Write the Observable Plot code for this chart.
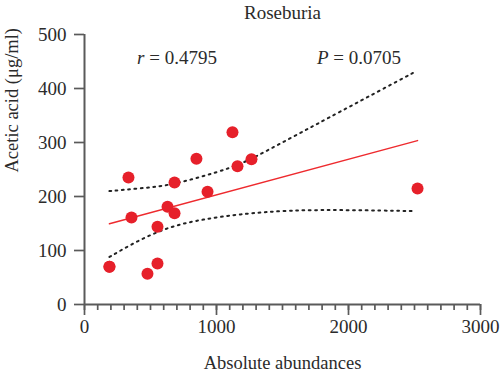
<!DOCTYPE html>
<html>
<head>
<meta charset="utf-8">
<script src="https://cdn.jsdelivr.net/npm/d3@7"></script>
<script src="https://cdn.jsdelivr.net/npm/@observablehq/plot@0.6"></script>
<style>
  html, body { margin: 0; padding: 0; background: #fff; }
  #chart { width: 500px; height: 376px; }
</style>
</head>
<body>
<div id="chart"></div>
<script>
// Data
const abundance = [189, 333, 356, 189, 477, 553, 553, 629, 682, 682, 848, 932, 1121, 1159, 1265, 2523];
const acetic    = [70, 235, 161, 70, 57, 76, 144, 181, 169, 226, 270, 209, 319, 256, 269, 215];

// Fitted regression line (as drawn in the reference)
const fitX = [189, 2523];
const fitY = [149.5, 303.5];

// 95% confidence band
const upperX = [189, 420, 630, 880, 1110, 1260, 1410, 1560, 1710, 1840, 2040, 2240, 2505];
const upperY = [210, 215, 220, 236, 253, 269, 288.5, 308, 327.5, 344.5, 370.5, 396.5, 431];
const lowerX = [189, 400, 650, 900, 1160, 1550, 2000, 2505];
const lowerY = [88, 118, 145, 158, 167, 175, 175, 173];

const xTicks = [0, 1000, 2000, 3000];
const yTicks = [0, 100, 200, 300, 400, 500];
const title = "Roseburia";
const xLabel = "Absolute abundances";
const yLabel = "Acetic acid (\u03bcg/ml)";
const statX = [705, 2083];
const statY = [457, 457];
const statSymbol = ["r", "P"];
const statValue = [" = 0.4795", " = 0.0705"];

const points = abundance.map((x, i) => ({x, y: acetic[i]}));
const fit = fitX.map((x, i) => ({x, y: fitY[i]}));
const upper = upperX.map((x, i) => ({x, y: upperY[i]}));
const lower = lowerX.map((x, i) => ({x, y: lowerY[i]}));

const serif = "'Liberation Serif', 'DejaVu Serif', serif";
const axisColor = "#5a5a5a";
const textColor = "#2b2b2b";

const chart = Plot.plot({
  width: 500,
  height: 376,
  marginLeft: 84,
  marginRight: 20,
  marginTop: 34,
  marginBottom: 72,
  style: {fontFamily: serif, fontSize: "19px", color: textColor, background: "#fff"},
  x: {domain: [0, 3000]},
  y: {domain: [0, 500]},
  marks: [
    // minor x ticks
    Plot.axisX({ticks: d3.range(0, 3001, 100), tickSize: 6, tickFormat: () => "", stroke: axisColor, strokeWidth: 1.7, label: null}),
    // major x ticks
    Plot.axisX({ticks: xTicks, tickSize: 11, tickPadding: 4, stroke: axisColor, strokeWidth: 1.7,
      fontSize: 19, label: null, tickFormat: d => String(d)}),
    Plot.axisY({ticks: yTicks, tickSize: 10, tickPadding: 8, stroke: axisColor, strokeWidth: 1.7,
      fontSize: 19, label: null, tickFormat: d => String(d)}),
    Plot.ruleY([0], {stroke: axisColor, strokeWidth: 2}),
    Plot.ruleX([0], {stroke: axisColor, strokeWidth: 2}),
    // confidence band
    Plot.line(upper, {x: "x", y: "y", curve: "basis", stroke: "#222", strokeWidth: 2, strokeDasharray: "1.8,4.5"}),
    Plot.line(lower, {x: "x", y: "y", curve: "basis", stroke: "#222", strokeWidth: 2, strokeDasharray: "1.8,4.5"}),
    // regression line
    Plot.line(fit, {x: "x", y: "y", stroke: "#ee2a2e", strokeWidth: 1.5}),
    // points
    Plot.dot(points, {x: "x", y: "y", r: 6, fill: "#e6202a", stroke: "none"}),
    // titles
    Plot.text([title], {frameAnchor: "top", lineAnchor: "middle", dy: -22, text: d => d, fontSize: 19, fill: textColor}),
    Plot.text([xLabel], {frameAnchor: "bottom", lineAnchor: "middle", dy: 59, text: d => d, fontSize: 18.5, fill: textColor}),
    Plot.text([yLabel], {frameAnchor: "left", lineAnchor: "middle", dx: -72, dy: 3, rotate: -90, text: d => d, fontSize: 18.5, fill: textColor})
  ]
});

// Statistics labels with italic letters, positioned through the chart's scales
const svg = d3.select(chart);
const xs = chart.scale("x"), ys = chart.scale("y");
statX.forEach((sx, i) => {
  const t = svg.append("text")
    .attr("x", xs.apply(sx)).attr("y", ys.apply(statY[i]))
    .attr("text-anchor", "middle").attr("dy", "0.35em")
    .attr("font-family", serif).attr("font-size", 19).attr("fill", textColor);
  t.append("tspan").attr("font-style", "italic").text(statSymbol[i]);
  t.append("tspan").text(statValue[i]);
});

document.getElementById("chart").appendChild(chart);
</script>
</body>
</html>
